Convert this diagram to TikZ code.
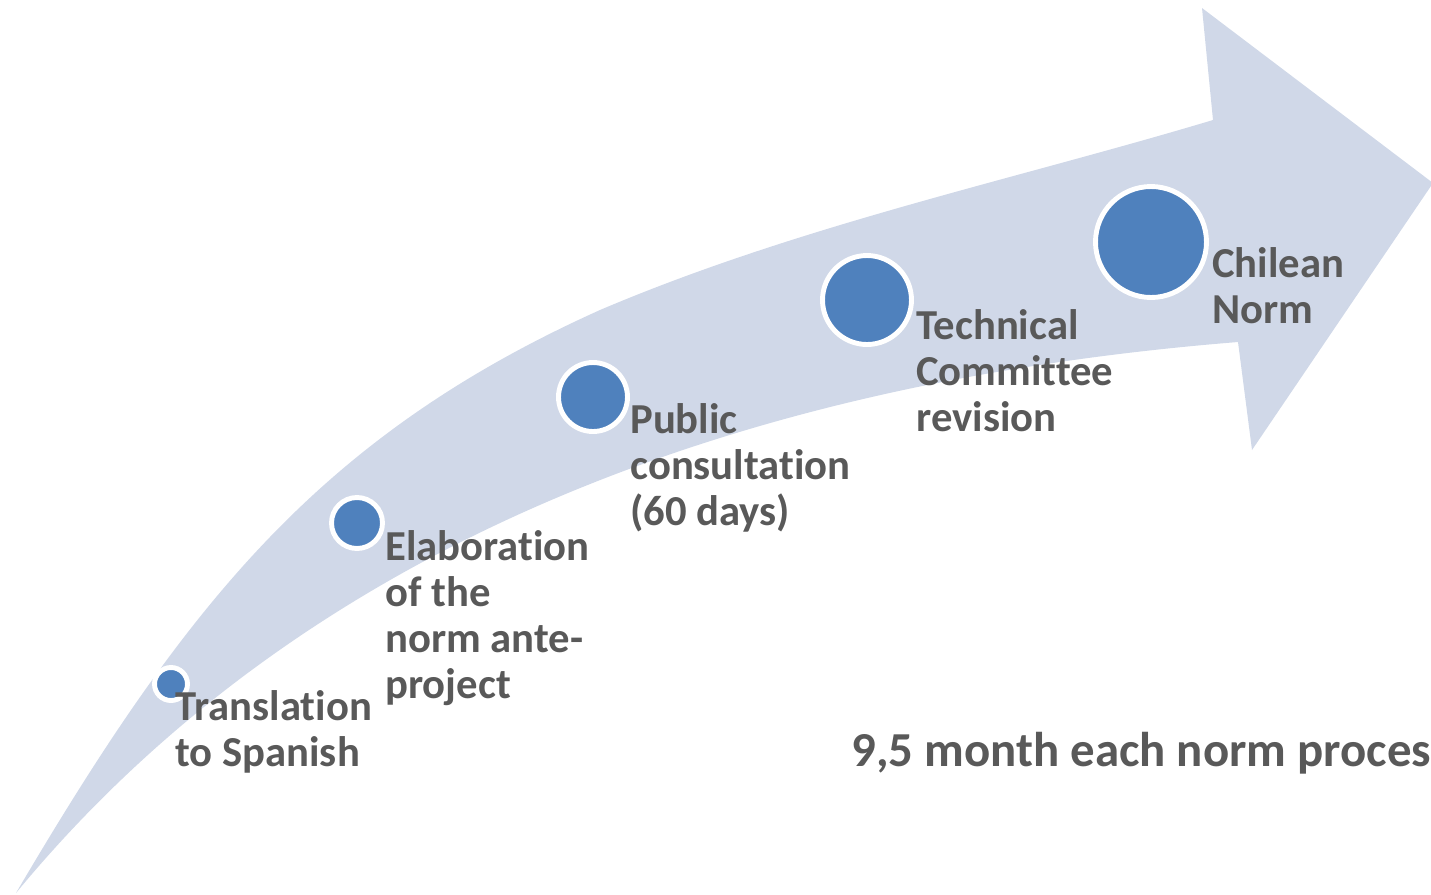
\documentclass[tikz,border=0pt]{standalone}
\usepackage{fontspec}
\setmainfont{Carlito}[Ligatures=NoCommon]
\definecolor{arrowfill}{HTML}{D0D8E8}
\definecolor{dotblue}{HTML}{4F81BD}
\definecolor{labelgray}{HTML}{595959}
\tikzset{
  dot/.style={circle, fill=dotblue, draw=white, line width=2.8pt, inner sep=0pt},
  steplabel/.style={anchor=base west, align=left, inner sep=0pt, text=labelgray,
    font=\bfseries\fontsize{24.3}{26.1}\selectfont}
}
\begin{document}
\begin{tikzpicture}[x=0.02cm, y=-0.02cm]
  \useasboundingbox (0,0) rectangle (1431,894);
  % curved arrow
  \fill[arrowfill] (16,893) .. controls (186,604) and (320,436) .. (600,310)
    .. controls (800,225) and (1013,180) .. (1213,120)
    -- (1202,8) -- (1433,183) -- (1252,450) -- (1238,342)
    .. controls (840,374) and (346,493) .. (16,893) -- cycle;
  % steps
  \node[dot, minimum size=0.66cm] (trans) at (171,684) {};
  \node[dot, minimum size=1.02cm] (elab) at (357,523) {};
  \node[dot, minimum size=1.38cm] (public) at (593,397) {};
  \node[dot, minimum size=1.78cm] (tech) at (867,300) {};
  \node[dot, minimum size=2.22cm] (chile) at (1151,242) {};
  % labels (placed at the baseline of their last line)
  \node[steplabel] (transtext) at (175,766) {Translation\\to Spanish};
  \node[steplabel] (elabtext) at (385,698) {Elaboration\\of the\\norm ante-\\project};
  \node[steplabel] (publictext) at (630,525) {Public\\consultation\\(60 days)};
  \node[steplabel] (techtext) at (916,431) {Technical\\Committee\\revision};
  \node[steplabel] (chiletext) at (1212,323) {Chilean\\Norm};
  \node[steplabel, font=\bfseries\fontsize{27.8}{30}\selectfont] (total) at (851,766) {9,5 month each norm process};
\end{tikzpicture}
\end{document}
